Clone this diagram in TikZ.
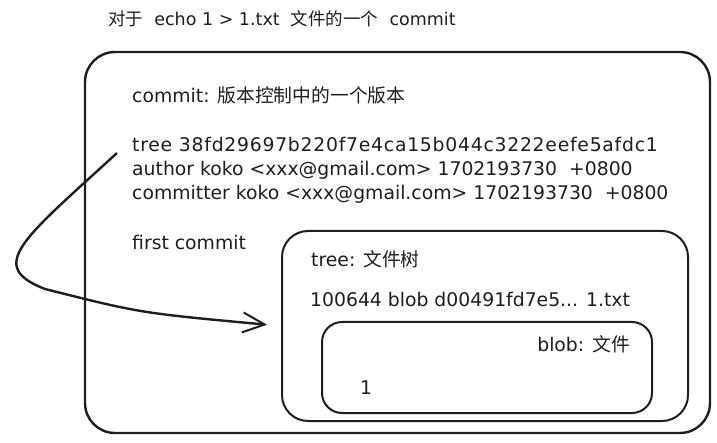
\documentclass[tikz,border=0pt]{standalone}
\usepackage{fontspec}
\setmainfont{DejaVu Sans}
\newfontfamily\zhfont{Noto Sans CJK SC}
\usepackage{xcolor}
\usepackage{tikz}
\usetikzlibrary{arrows.meta,positioning}
\definecolor{sketchink}{HTML}{1E1E1E}
\newcommand{\zh}[1]{{\zhfont #1}}
\tikzset{
  outerbox/.style={rectangle, rounded corners=30pt, draw=sketchink, line width=2.4pt, minimum width=625pt, minimum height=381pt},
  treebox/.style={rectangle, rounded corners=26pt, draw=sketchink, line width=2pt, minimum width=406pt, minimum height=190pt},
  blobbox/.style={rectangle, rounded corners=20pt, draw=sketchink, line width=2pt, minimum width=330pt, minimum height=91pt},
  txt/.style={anchor=base west, inner sep=0pt, text=sketchink, font=\fontsize{18.8}{24}\selectfont},
  smalltxt/.style={txt, font=\fontsize{17.5}{20}\selectfont},
  flow/.style={-{Straight Barb[length=22pt, width=20pt, line width=2pt]}, draw=sketchink, line width=2.4pt},
}

\begin{document}
\begin{tikzpicture}[x=1pt,y=-1pt]
  \useasboundingbox (0,0) rectangle (717,443);
  \node[smalltxt] (title) at (108,26) {\zh{对于}\ \ echo 1 > 1.txt\ \ \zh{文件的一个}\ \ commit};
  \node[outerbox] (commit) at (397.5,242.5) {};
  \node[txt] (commitlbl) at (132,103) {commit: \zh{版本控制中的一个版本}};
  \node[txt] (hash) at (132,152) {\addfontfeatures{LetterSpace=4}tree 38fd29697b220f7e4ca15b044c3222eefe5afdc1};
  \node[txt] (author) at (132,176) {author koko <xxx@gmail.com> 1702193730\ \ +0800};
  \node[txt] (committer) at (132,200) {committer koko <xxx@gmail.com> 1702193730\ \ +0800};
  \node[txt] (msg) at (132,250) {first commit};
  \node[treebox] (tree) at (485,326) {};
  \node[txt] (treelbl) at (311,267) {tree: \zh{文件树}};
  \node[txt] (entry) at (310,307) {100644 blob d00491fd7e5... 1.txt};
  \node[blobbox] (blob) at (487,367.5) {};
  \node[txt,anchor=base east] (bloblbl) at (630,352) {blob: \zh{文件}};
  \node[txt] (content) at (360,394) {1};
  \coordinate (hashtail) at (117,153);
  \draw[flow,shorten >=14pt] (hashtail) .. controls (22,240) and (-14,266) .. (45,289) .. controls (140,313) .. (tree.west);
\end{tikzpicture}
\end{document}
